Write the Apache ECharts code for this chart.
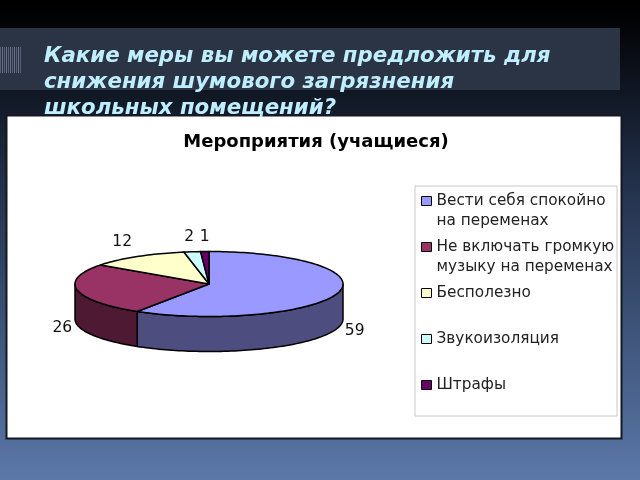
<!DOCTYPE html>
<html><head><meta charset="utf-8">
<style>html,body{margin:0;padding:0;background:#000}#c{width:640px;height:480px;filter:blur(0.35px)}</style>
<script src="https://cdn.jsdelivr.net/npm/echarts@6/dist/echarts.min.js"></script>
</head><body><div id="c"></div>
<script>
const slideTitle = "Какие меры вы можете предложить для\nснижения шумового загрязнения\nшкольных помещений?";
const chartTitle = "Мероприятия (учащиеся)";
const categories = ["Вести себя спокойно\nна переменах","Не включать громкую\nмузыку на переменах","Бесполезно\n ","Звукоизоляция\n ","Штрафы\n "];
const values = [59,26,12,2,1];
const topColors = ["#9999FF","#993366","#FFFFCC","#CCFFFF","#660066"];
const sideColors = ["#4D4D80","#4D1933","#808066","#668080","#330033"];

const CX=209, CY=284, RX=134, RY=32.5, DEPTH=35;
const total = values.reduce((a,b)=>a+b,0);
const fontFamily = '"DejaVu Sans"';
const pt = (deg,dy=0)=>{const r=deg*Math.PI/180;return [CX+RX*Math.sin(r),CY-RY*Math.cos(r)+dy];};
const arc = (a,b,dy=0)=>{const n=Math.max(2,Math.ceil(Math.abs(b-a)/1.5));const o=[];for(let i=0;i<=n;i++)o.push(pt(a+(b-a)*i/n,dy));return o;};

function makeRender(i){
  const before = values.slice(0,i).reduce((a,b)=>a+b,0);
  return function(params,api){
    const v = api.value(0);
    const a0 = before/total*360, a1 = (before+v)/total*360, mid=(a0+a1)/2;
    const children=[];
    const s0=Math.max(a0,90), s1=Math.min(a1,270);
    if(s1>s0){
      children.push({type:'polygon',z2:1,shape:{points:arc(s0,s1).concat(arc(s1,s0,DEPTH))},
        style:{fill:sideColors[i],stroke:'#000',lineWidth:1.5,lineJoin:'round'}});
    }
    children.push({type:'polygon',z2:2,shape:{points:[[CX,CY]].concat(arc(a0,a1))},
      style:{fill:topColors[i],stroke:'#000',lineWidth:1.5,lineJoin:'round'}});
    const r=mid*Math.PI/180, front=Math.cos(r)<0;
    const p=pt(mid,front?DEPTH:0);
    const dx=1+16*Math.max(-1,Math.min(1,Math.sin(r)*2));
    children.push({type:'text',z2:3,style:{text:String(v),x:p[0]+dx,y:p[1]+(front?3:-15),
      align:'center',verticalAlign:'middle',fill:'#111',font:'15.5px '+fontFamily}});
    return {type:'group',children};
  };
}

const chart = echarts.init(document.getElementById('c'),null,{renderer:'canvas',width:640,height:480});
const stripes=[];
for(let k=0;k<11;k++) stripes.push({type:'rect',z:-8,shape:{x:k*2,y:47,width:1,height:26},style:{fill:k%2?'#6a7488':'#56607a'}});
chart.setOption({
  animation:false,
  backgroundColor:new echarts.graphic.LinearGradient(0,0,0,1,[
    {offset:0,color:'#000000'},{offset:0.05,color:'#030406'},{offset:0.38,color:'#22304a'},{offset:1,color:'#5b78a9'}]),
  title:[
    {text:slideTitle,left:39,top:38,textStyle:{color:'#BFEEFF',fontFamily,fontWeight:'bold',fontStyle:'italic',fontSize:21.3,lineHeight:26}},
    {text:chartTitle,left:316,top:128,padding:[5,0],textAlign:'center',textStyle:{color:'#000',fontFamily,fontWeight:'bold',fontSize:18}}
  ],
  legend:{
    orient:'vertical',left:421,top:171,padding:0,itemWidth:10,itemHeight:9,itemGap:-14,icon:'rect',
    data:categories,selectedMode:false,
    formatter:n=>' \n'+n,
    itemStyle:{borderColor:'#000',borderWidth:1},
    textStyle:{color:'#222',fontFamily,fontSize:15.3,lineHeight:20}
  },
  graphic:[
    {type:'rect',z:-10,shape:{x:0,y:28,width:620,height:62},style:{fill:'#2A3444'}},
    ...stripes,
    {type:'rect',z:-9,shape:{x:6.5,y:115.5,width:615,height:323},style:{fill:'#fff',stroke:'#15181f',lineWidth:2}},
    {type:'rect',z:-8,shape:{x:415,y:186,width:202,height:230},style:{fill:'#fff',stroke:'#C8C8C8',lineWidth:1}}
  ],
  series:categories.map((name,i)=>({
    type:'custom',name,coordinateSystem:'none',renderItem:makeRender(i),
    data:[values[i]],itemStyle:{color:topColors[i]},silent:true,z:3
  }))
});
</script></body></html>
